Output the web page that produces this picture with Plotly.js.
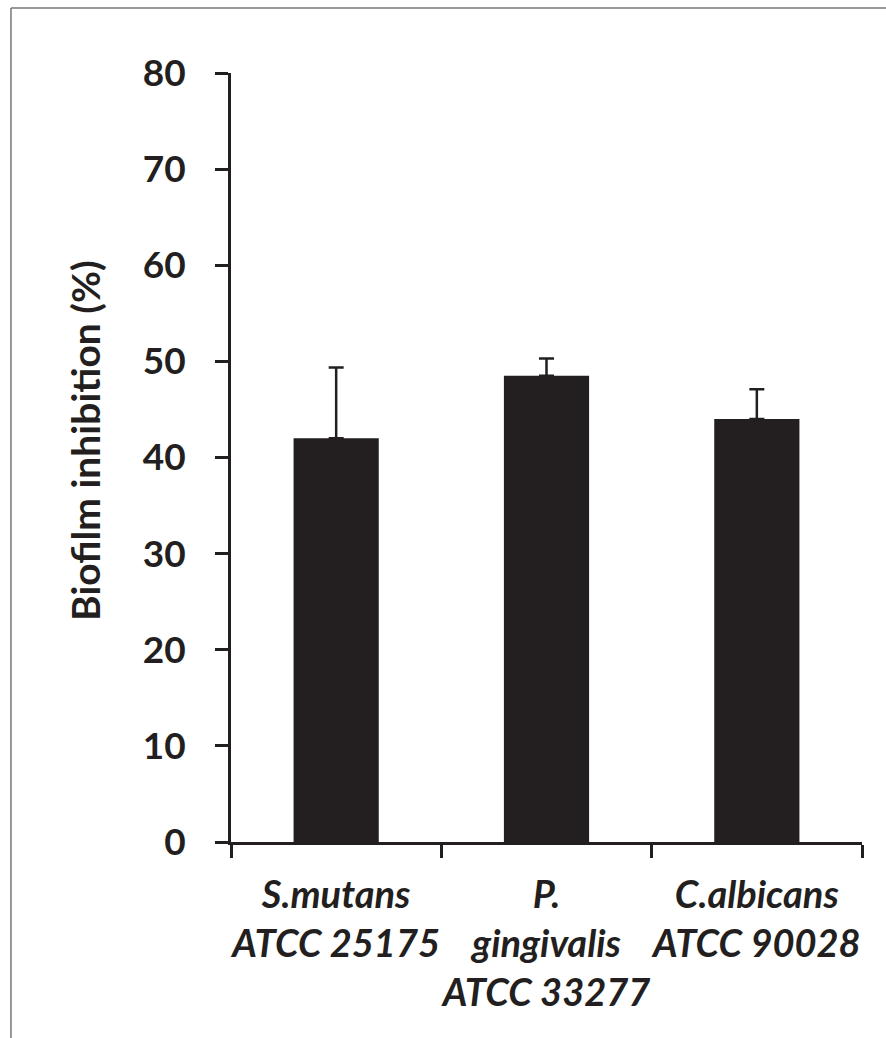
<!DOCTYPE html>
<html>
<head>
<meta charset="utf-8">
<script src="https://cdn.plot.ly/plotly-3.0.1.min.js"></script>
<style>
  html, body { margin: 0; padding: 0; background: #ffffff; }
  #chart { width: 886px; height: 1038px; }
</style>
</head>
<body>
<div id="chart"></div>
<script>
const categories = [
  "S.mutans<br>ATCC 25175",
  "P.<br>gingivalis<br>ATCC 33277",
  "C.albicans<br>ATCC 90028"
];
const inhibition = [42.0, 48.5, 44.0];
const errorUp = [7.35, 1.8, 3.1];
const yTicks = [0, 10, 20, 30, 40, 50, 60, 70, 80];
const yTitle = "Biofilm inhibition (%)";

const ink = "#231f20";
const fontFam = "Lato, 'Open Sans', sans-serif";

const trace = {
  type: "bar",
  x: categories,
  y: inhibition,
  marker: { color: ink, line: { width: 0 } },
  width: 0.405,
  error_y: {
    type: "data",
    symmetric: false,
    array: errorUp,
    arrayminus: [0, 0, 0],
    color: ink,
    thickness: 2.5,
    width: 7.5
  },
  hoverinfo: "none"
};

const layout = {
  width: 886,
  height: 1038,
  margin: { l: 231, r: 24, t: 73, b: 196 },
  paper_bgcolor: "#ffffff",
  plot_bgcolor: "#ffffff",
  showlegend: false,
  font: { family: fontFam, color: ink },
  xaxis: {
    type: "category",
    tickson: "boundaries",
    tickangle: 0,
    ticks: "outside",
    ticklen: 13,
    tickwidth: 3,
    tickcolor: ink,
    showline: true,
    linecolor: ink,
    linewidth: 3,
    showgrid: false,
    zeroline: false,
    tickfont: { family: fontFam, size: 38, weight: "bold", style: "italic", color: ink },
    ticklabelstandoff: 17
  },
  yaxis: {
    range: [0, 80],
    tickmode: "array",
    tickvals: yTicks,
    ticktext: yTicks.map(String),
    ticks: "outside",
    ticklen: 13,
    tickwidth: 3,
    tickcolor: ink,
    showline: true,
    linecolor: ink,
    linewidth: 3,
    showgrid: false,
    zeroline: false,
    tickfont: { family: fontFam, size: 37, weight: "bold", color: ink },
    ticklabelstandoff: 22
  },
  annotations: [
    {
      text: "<b>" + yTitle + "</b>",
      xref: "paper", yref: "paper",
      x: -0.2314, y: 0.5228,
      xanchor: "center", yanchor: "middle",
      textangle: -90,
      showarrow: false,
      font: { family: fontFam, size: 39, weight: "bold", color: ink }
    }
  ],
  shapes: [
    {
      type: "line", xref: "paper", yref: "paper",
      x0: -0.3487, x1: -0.3487, y0: -0.4, y1: 1.0845,
      line: { color: "#777777", width: 1.5 }
    },
    {
      type: "line", xref: "paper", yref: "paper",
      x0: -0.3487, x1: 1.2, y0: 1.0845, y1: 1.0845,
      line: { color: "#777777", width: 1.5 }
    }
  ]
};

Plotly.newPlot("chart", [trace], layout, { staticPlot: true, displayModeBar: false });
</script>
</body>
</html>
